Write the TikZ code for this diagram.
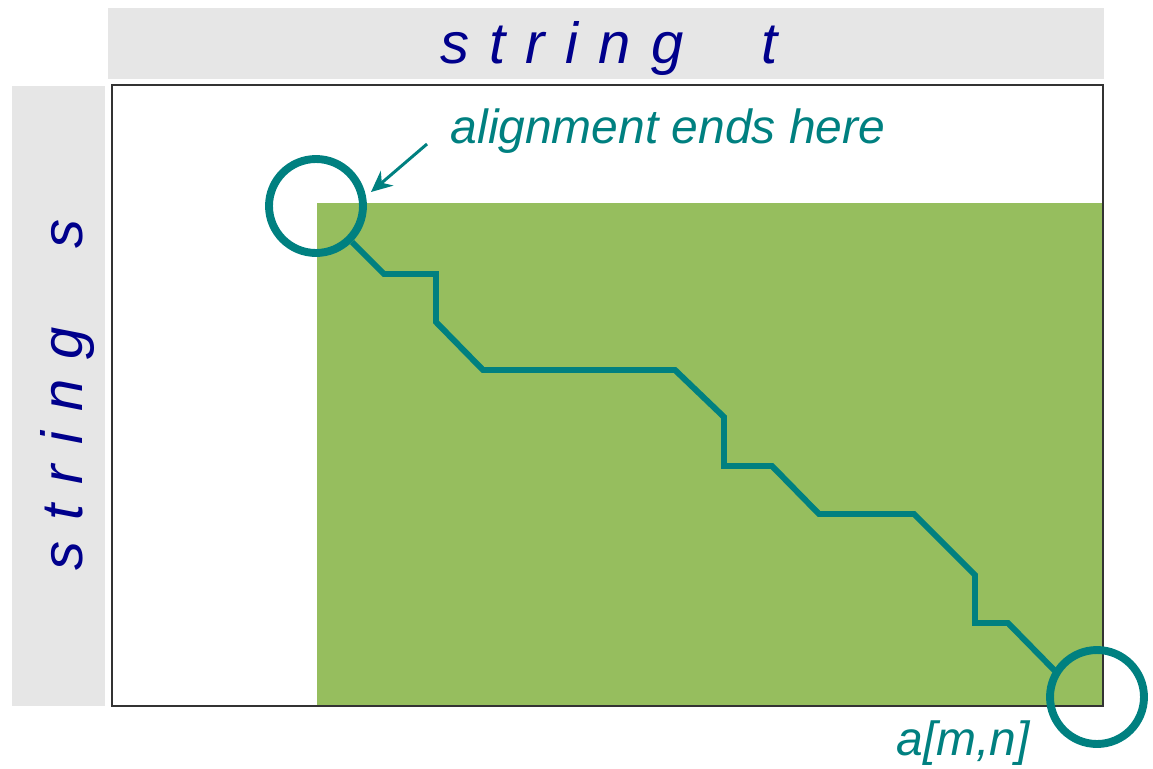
\documentclass[tikz,border=0pt]{standalone}
\usepackage{fontspec}
\setmainfont{Liberation Sans}
\usepackage{xcolor}
\usetikzlibrary{arrows.meta}

\definecolor{navytxt}{RGB}{0,0,140}
\definecolor{tealc}{RGB}{0,128,128}
\definecolor{greenf}{RGB}{150,190,94}
\definecolor{grayb}{RGB}{230,230,230}

\newcommand{\lsp}{\hspace{0.35em}}

\tikzset{
  titletxt/.style={text=navytxt,font=\fontsize{33}{40}\selectfont\itshape,anchor=base,inner sep=0pt},
  notetxt/.style={text=tealc,font=\fontsize{27.3}{32}\selectfont\itshape,anchor=base,inner sep=0pt},
  endring/.style={circle,draw=tealc,line width=4.5pt,minimum size=1.88cm,inner sep=0pt},
  trace/.style={draw=tealc,line width=3.4pt}
}

\begin{document}
\begin{tikzpicture}[x=0.02cm,y=-0.02cm]
\useasboundingbox (0,0) rectangle (1153,768);
% label bars
\fill[grayb] (108,8) rectangle (1104,79);
\fill[grayb] (12,86) rectangle (105,706);
\node[titletxt] (tname) at (609,63) {s\lsp t\lsp r\lsp i\lsp n\lsp g\hspace{1.35em}t};
\node[titletxt,rotate=90] (sname) at (82,395) {s\lsp t\lsp r\lsp i\lsp n\lsp g\hspace{1.35em}s};
% matrix
\fill[greenf] (317,203) rectangle (1103,706);
\draw[black!80,line width=0.6pt] (112,85) rectangle (1103,706);
% end points of the alignment
\node[endring] (startc) at (316,206) {};
\node[endring] (endc) at (1097,697) {};
\coordinate (tracend) at (1057,673);
\draw[trace] (startc.-45) -- (384,274) -- (436,274) -- (436,322) -- (483,370)
  -- (675,370) -- (724,417) -- (724,466) -- (772,466) -- (819,514)
  -- (914,514) -- (975,575) -- (975,623) -- (1008,623) -- (tracend);
% labels
\node[notetxt] (lbl) at (668,143) {alignment ends here};
\node[notetxt] (amn) at (963,755) {a[m,n]};
\coordinate (atail) at (427,144);
\coordinate (atip) at (371,192);
\draw[tealc,line width=1.7pt,-{Stealth[length=12pt,width=11pt]}] (atail) -- (atip);
\end{tikzpicture}
\end{document}
